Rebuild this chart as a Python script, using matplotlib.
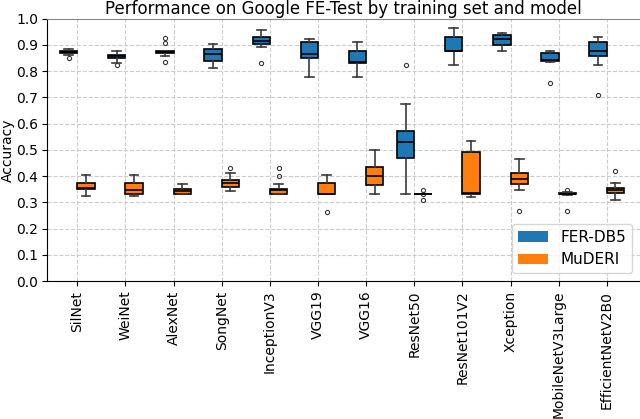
import matplotlib
matplotlib.use("Agg")
import matplotlib.pyplot as plt
from matplotlib.patches import Patch

models = ["SilNet", "WeiNet", "AlexNet", "SongNet", "InceptionV3", "VGG19", "VGG16",
          "ResNet50", "ResNet101V2", "Xception", "MobileNetV3Large", "EfficientNetV2B0"]
datasets = ["FER-DB5", "MuDERI"]

# FER-DB5 box statistics
fer_q1 = [0.868, 0.850, 0.868, 0.839, 0.901, 0.848, 0.832, 0.470, 0.876, 0.898, 0.838, 0.856]
fer_med = [0.872, 0.856, 0.872, 0.865, 0.916, 0.865, 0.833, 0.530, 0.876, 0.921, 0.842, 0.877]
fer_q3 = [0.875, 0.862, 0.875, 0.882, 0.929, 0.911, 0.876, 0.571, 0.931, 0.936, 0.867, 0.911]
fer_lo = [0.862, 0.832, 0.858, 0.813, 0.890, 0.778, 0.778, 0.333, 0.821, 0.876, 0.833, 0.821]
fer_hi = [0.885, 0.876, 0.875, 0.901, 0.955, 0.921, 0.911, 0.675, 0.964, 0.945, 0.876, 0.930]
fer_fliers = [[0.848], [0.821], [0.924, 0.907, 0.836], [], [0.832], [], [],
              [0.823], [], [], [0.754], [0.709]]

# MuDERI box statistics
mud_q1 = [0.351, 0.332, 0.333, 0.357, 0.333, 0.333, 0.367, 0.333, 0.333, 0.370, 0.330, 0.335]
mud_med = [0.356, 0.345, 0.343, 0.372, 0.345, 0.333, 0.400, 0.333, 0.335, 0.390, 0.332, 0.345]
mud_q3 = [0.372, 0.372, 0.352, 0.383, 0.351, 0.372, 0.435, 0.333, 0.490, 0.410, 0.334, 0.355]
mud_lo = [0.322, 0.323, 0.333, 0.343, 0.333, 0.333, 0.333, 0.333, 0.320, 0.345, 0.328, 0.310]
mud_hi = [0.402, 0.402, 0.371, 0.411, 0.371, 0.402, 0.500, 0.333, 0.535, 0.465, 0.340, 0.375]
mud_fliers = [[], [], [], [0.432], [0.432, 0.401], [0.262], [],
              [0.345, 0.330, 0.310], [], [0.266], [0.345, 0.266], [0.420]]

colors = ["#1f77b4", "#ff7f0e"]


def stats(q1, med, q3, lo, hi, fl):
    out = []
    for i in range(len(q1)):
        out.append(dict(q1=q1[i], med=med[i], q3=q3[i], whislo=lo[i], whishi=hi[i],
                        fliers=fl[i], label=models[i]))
    return out


fig = plt.figure(figsize=(6.4, 4.19), dpi=100)
left_px = 47.0
ax = fig.add_axes([left_px / 640, 1 - 281 / 419, 1 - left_px / 640, (281 - 18.5) / 419])

offset = 0.18
width = 0.36
all_stats = [stats(fer_q1, fer_med, fer_q3, fer_lo, fer_hi, fer_fliers),
             stats(mud_q1, mud_med, mud_q3, mud_lo, mud_hi, mud_fliers)]
for k, st in enumerate(all_stats):
    pos = [i + (offset if k else -offset) for i in range(len(models))]
    ax.bxp(st, positions=pos, widths=width, patch_artist=True, manage_ticks=False,
           boxprops=dict(facecolor=colors[k], edgecolor="black", linewidth=1.2),
           medianprops=dict(color="black", linewidth=1.2),
           whiskerprops=dict(color="#3a3a3a", linewidth=1.2),
           capprops=dict(color="#3a3a3a", linewidth=1.2),
           flierprops=dict(marker="o", markersize=3, markerfacecolor="none",
                           markeredgecolor="#3a3a3a", markeredgewidth=0.8))

ax.set_xticks(range(len(models)))
ax.set_xticklabels(models, rotation=90, fontsize=10)
ax.set_xlim(-0.63, 11.69)
ax.set_ylim(0.0, 1.0)
ax.set_yticks([i / 10 for i in range(11)])
ax.tick_params(axis="y", labelsize=10, pad=3)
ax.set_ylabel("Accuracy", fontsize=10, labelpad=1)
ax.set_title("Performance on Google FE-Test by training set and model", fontsize=12, pad=3)
ax.grid(True, linestyle="--", color="#cccccc", linewidth=0.8)
ax.set_axisbelow(True)
ax.spines["right"].set_visible(False)
ax.spines["top"].set_color("#888888")

handles = [Patch(facecolor=colors[0], label=datasets[0]),
           Patch(facecolor=colors[1], label=datasets[1])]
ax.legend(handles=handles, loc="lower right", fontsize=11)

fig.savefig("out.png", dpi=100)
